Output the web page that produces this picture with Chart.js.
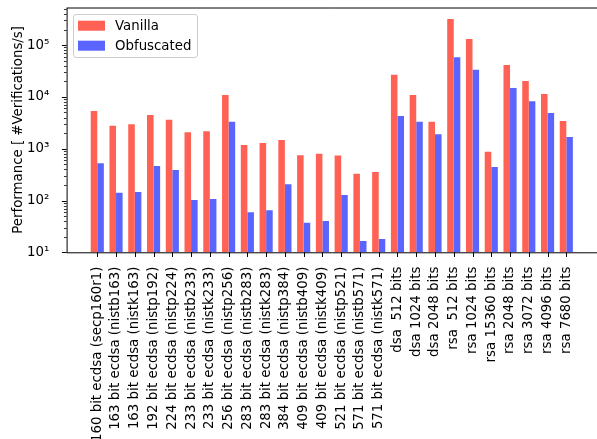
<!DOCTYPE html>
<html>
<head>
<meta charset="utf-8">
<script src="https://cdn.jsdelivr.net/npm/chart.js@4/dist/chart.umd.min.js"></script>
<style>
  html, body { margin: 0; padding: 0; background: #fff; }
  canvas { display: block; }
</style>
</head>
<body>
<canvas id="c" width="597" height="439"></canvas>
<script>
// Signature verifications per second, vanilla vs. obfuscated builds
const categories = [
  '160 bit ecdsa (secp160r1)', '163 bit ecdsa (nistb163)', '163 bit ecdsa (nistk163)',
  '192 bit ecdsa (nistp192)', '224 bit ecdsa (nistp224)', '233 bit ecdsa (nistb233)',
  '233 bit ecdsa (nistk233)', '256 bit ecdsa (nistp256)', '283 bit ecdsa (nistb283)',
  '283 bit ecdsa (nistk283)', '384 bit ecdsa (nistp384)', '409 bit ecdsa (nistb409)',
  '409 bit ecdsa (nistk409)', '521 bit ecdsa (nistp521)', '571 bit ecdsa (nistb571)',
  '571 bit ecdsa (nistk571)', 'dsa  512 bits', 'dsa 1024 bits', 'dsa 2048 bits',
  'rsa  512 bits', 'rsa 1024 bits', 'rsa 15360 bits', 'rsa 2048 bits', 'rsa 3072 bits',
  'rsa 4096 bits', 'rsa 7680 bits'
];
const vanilla = [
  5350, 2780, 2960, 4480, 3630, 2070, 2170, 10900, 1180, 1290, 1470, 746, 801,
  740, 330, 355, 26800, 10900, 3320, 319000, 131000, 875, 41300, 20300, 11400, 3430
];
const obfuscated = [
  523, 141, 146, 463, 388, 102, 107, 3320, 59, 65, 206, 37, 40,
  128, 16.5, 18, 4280, 3320, 1900, 58100, 33500, 444, 14900, 8220, 4890, 1680
];
const yTickValues = [10, 100, 1000, 10000, 100000];
const yTickLabels = ['10\u00B9', '10\u00B2', '10\u00B3', '10\u2074', '10\u2075'];
const seriesNames = ['Vanilla', 'Obfuscated'];

const RED = '#ff6254';
const BLUE = '#5a64ff';
const FONT = 'DejaVu Sans';
const FS = 13.33;
const Y_MIN = 10, Y_MAX = 532000;
const X_MIN = -1.635, X_MAX = 26.635;
const MAJOR = 4.67, MINOR = 2.67;

Chart.defaults.font.family = FONT;
Chart.defaults.font.size = FS;
Chart.defaults.color = '#000';

// Axes frame, tick marks (major + minor) and an in-plot legend box
const framePlugin = {
  id: 'frame',
  afterDatasetsDraw(chart) {
    const { ctx, chartArea: a, scales: { x, y } } = chart;
    ctx.save();
    ctx.strokeStyle = '#000';
    // x tick marks
    ctx.lineWidth = 1;
    ctx.beginPath();
    categories.forEach((_, i) => {
      const px = Math.round(x.getPixelForValue(i)) + 0.5;
      ctx.moveTo(px, a.bottom);
      ctx.lineTo(px, a.bottom + MAJOR);
    });
    ctx.stroke();
    // y tick marks
    for (let d = 1; d <= 6; d++) {
      for (let m = 1; m <= 9; m++) {
        const v = m * Math.pow(10, d);
        if (v < Y_MIN || v > Y_MAX) continue;
        const py = Math.round(y.getPixelForValue(v)) + 0.5;
        ctx.lineWidth = m === 1 ? 1 : 0.8;
        ctx.beginPath();
        ctx.moveTo(a.left, py);
        ctx.lineTo(a.left - (m === 1 ? MAJOR : MINOR), py);
        ctx.stroke();
      }
    }
    // spines
    ctx.lineWidth = 1;
    ctx.beginPath();
    ctx.moveTo(a.left + 0.5, a.top + 0.5);
    ctx.lineTo(a.left + 0.5, a.bottom + 0.5);
    ctx.moveTo(a.left, a.bottom + 0.5);
    ctx.lineTo(a.right + 2, a.bottom + 0.5);
    ctx.moveTo(a.left, a.top + 0.5);
    ctx.lineTo(a.right + 2, a.top + 0.5);
    ctx.stroke();

    // legend
    const bx = 73.5, by = 14.5, bw = 124, bh = 43, r = 2.7;
    ctx.beginPath();
    ctx.moveTo(bx + r, by);
    ctx.arcTo(bx + bw, by, bx + bw, by + bh, r);
    ctx.arcTo(bx + bw, by + bh, bx, by + bh, r);
    ctx.arcTo(bx, by + bh, bx, by, r);
    ctx.arcTo(bx, by, bx + bw, by, r);
    ctx.closePath();
    ctx.fillStyle = 'rgba(255,255,255,0.8)';
    ctx.fill();
    ctx.strokeStyle = '#cccccc';
    ctx.lineWidth = 1;
    ctx.stroke();
    const colors = chart.data.datasets.map(ds => ds.backgroundColor);
    ctx.font = FS + 'px "' + FONT + '"';
    ctx.textBaseline = 'middle';
    ctx.textAlign = 'left';
    seriesNames.forEach((name, i) => {
      const cy = 25.7 + i * 20;
      ctx.fillStyle = colors[i];
      ctx.fillRect(78, cy - 5, 27, 10);
      ctx.fillStyle = '#000';
      ctx.fillText(name, 115, cy + 0.5);
    });
    ctx.restore();
  }
};

new Chart(document.getElementById('c'), {
  type: 'bar',
  data: {
    datasets: [
      { label: seriesNames[0], data: vanilla.map((v, i) => ({ x: i, y: v })), backgroundColor: RED,
        categoryPercentage: 0.7, barPercentage: 1.0, borderWidth: 0 },
      { label: seriesNames[1], data: obfuscated.map((v, i) => ({ x: i, y: v })), backgroundColor: BLUE,
        categoryPercentage: 0.7, barPercentage: 1.0, borderWidth: 0 }
    ]
  },
  options: {
    responsive: false,
    devicePixelRatio: 1,
    animation: false,
    layout: { padding: { top: 7.5, right: 0, left: 0, bottom: 0 } },
    plugins: { legend: { display: false }, tooltip: { enabled: false } },
    scales: {
      x: {
        type: 'linear',
        offset: false,
        min: X_MIN,
        max: X_MAX,
        grid: { display: false },
        border: { display: false },
        afterBuildTicks: s => { s.ticks = categories.map((_, i) => ({ value: i })); },
        ticks: {
          autoSkip: false,
          maxRotation: 90,
          minRotation: 90,
          padding: 6.3,
          font: { size: FS },
          callback: v => categories[v]
        },
        afterFit: s => { s.height = 186.7; s.paddingLeft = 0; s.paddingRight = 0; }
      },
      y: {
        type: 'logarithmic',
        min: Y_MIN,
        max: Y_MAX,
        grid: { display: false },
        border: { display: false },
        afterBuildTicks: s => { s.ticks = yTickValues.map(v => ({ value: v, major: true })); },
        ticks: {
          padding: 9.3,
          font: { size: FS },
          callback: v => yTickLabels[yTickValues.indexOf(v)]
        },
        title: {
          display: true,
          text: 'Performance [ #Verifications/s]',
          font: { size: FS },
          padding: { top: 11, bottom: 0 }
        },
        afterFit: s => { s.width = 66.6; s.paddingTop = 0; s.paddingBottom = 0; }
      }
    }
  },
  plugins: [framePlugin]
});
</script>
</body>
</html>
